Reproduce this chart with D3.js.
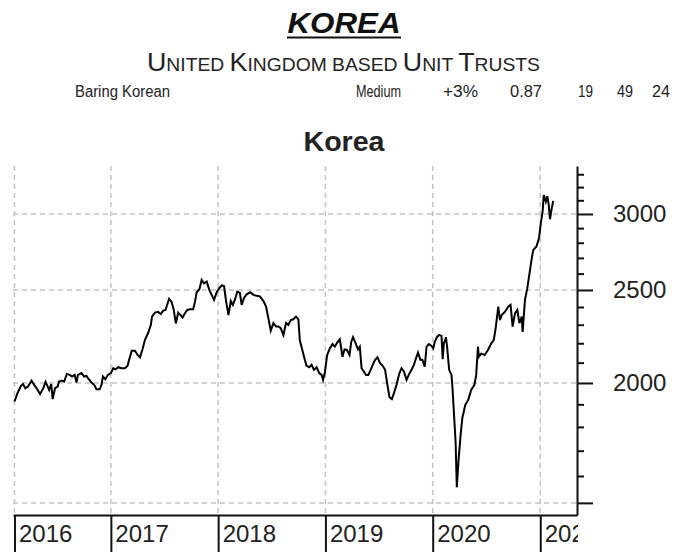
<!DOCTYPE html>
<html>
<head>
<meta charset="utf-8">
<script src="https://cdn.jsdelivr.net/npm/d3@7"></script>
<style>
  body { margin: 0; background: #fff; }
  svg { display: block; }
</style>
</head>
<body>
<svg id="chart"></svg>
<script>
// fund row under the heading
const rowTexts = ["Baring Korean", "Medium", "+3%", "0.87", "19", "49", "24"];

// weekly-ish closing levels
const dates = [
  "2016-02-08","2016-02-18","2016-03-01","2016-03-08","2016-03-16","2016-03-25","2016-04-06","2016-04-15","2016-04-23","2016-05-05",
  "2016-05-16","2016-05-24","2016-05-31","2016-06-05","2016-06-12","2016-06-17","2016-06-25","2016-07-04","2016-07-08","2016-07-17",
  "2016-07-26","2016-08-04","2016-08-14","2016-08-22","2016-08-31","2016-09-06","2016-09-11","2016-09-23","2016-10-02","2016-10-10",
  "2016-10-18","2016-10-27","2016-11-05","2016-11-13","2016-11-24","2016-11-30","2016-12-05","2016-12-13","2016-12-22","2017-01-01",
  "2017-01-09","2017-01-17","2017-01-26","2017-02-06","2017-02-18","2017-02-27","2017-03-04","2017-03-13","2017-03-24","2017-04-02",
  "2017-04-10","2017-04-18","2017-04-27","2017-05-08","2017-05-17","2017-05-21","2017-05-31","2017-06-11","2017-06-20","2017-06-28",
  "2017-07-06","2017-07-18","2017-07-27","2017-08-03","2017-08-10","2017-08-18","2017-08-26","2017-09-02","2017-09-10","2017-09-18",
  "2017-09-27","2017-10-08","2017-10-14","2017-10-20","2017-10-29","2017-11-06","2017-11-14","2017-11-23","2017-12-02","2017-12-10",
  "2017-12-18","2017-12-27","2018-01-05","2018-01-13","2018-01-21","2018-01-28","2018-02-05","2018-02-13","2018-02-20","2018-02-28",
  "2018-03-07","2018-03-16","2018-03-22","2018-03-30","2018-04-08","2018-04-20","2018-05-01","2018-05-12","2018-05-23","2018-06-04",
  "2018-06-13","2018-06-21","2018-06-29","2018-07-08","2018-07-17","2018-07-25","2018-08-02","2018-08-11","2018-08-20","2018-08-28",
  "2018-09-05","2018-09-14","2018-09-23","2018-10-01","2018-10-06","2018-10-15","2018-10-23","2018-10-29","2018-11-07","2018-11-15",
  "2018-11-23","2018-12-02","2018-12-11","2018-12-19","2018-12-24","2018-12-30","2019-01-07","2019-01-16","2019-01-25","2019-02-02",
  "2019-02-10","2019-02-19","2019-02-28","2019-03-07","2019-03-15","2019-03-24","2019-03-30","2019-04-05","2019-04-14","2019-04-22",
  "2019-04-28","2019-05-04","2019-05-12","2019-05-19","2019-05-27","2019-06-04","2019-06-11","2019-06-19","2019-06-27","2019-07-06",
  "2019-07-15","2019-07-23","2019-07-31","2019-08-07","2019-08-15","2019-08-22","2019-08-31","2019-09-09","2019-09-17","2019-09-25",
  "2019-10-04","2019-10-13","2019-10-21","2019-10-29","2019-11-07","2019-11-12","2019-11-20","2019-11-27","2019-12-05","2019-12-11",
  "2019-12-19","2019-12-28","2020-01-03","2020-01-08","2020-01-16","2020-01-23","2020-01-31","2020-02-04","2020-02-08","2020-02-15",
  "2020-02-19","2020-02-26","2020-03-05","2020-03-08","2020-03-12","2020-03-19","2020-03-23","2020-03-29","2020-04-05","2020-04-11",
  "2020-04-21","2020-05-01","2020-05-11","2020-05-22","2020-05-28","2020-06-03","2020-06-06","2020-06-14","2020-06-26","2020-07-07",
  "2020-07-18","2020-07-27","2020-08-03","2020-08-11","2020-08-17","2020-08-23","2020-09-03","2020-09-14","2020-09-22","2020-09-29",
  "2020-10-07","2020-10-15","2020-10-22","2020-10-30","2020-11-02","2020-11-10","2020-11-18","2020-11-24","2020-12-02","2020-12-08",
  "2020-12-19","2020-12-28","2021-01-03","2021-01-09","2021-01-13","2021-01-20","2021-01-25","2021-01-30","2021-02-03","2021-02-09",
  "2021-02-14"
];
const values = [
  1913,1951,1986,1995,1975,1983,2011,1991,1975,1948,
  1975,2006,1983,1967,1995,1924,1975,1983,2006,2011,
  2006,2044,2039,2031,2039,2002,2039,2048,2031,2034,
  2018,2002,1991,1970,1970,1991,2031,2018,2039,2048,
  2072,2067,2077,2072,2072,2084,2114,2161,2161,2139,
  2127,2165,2218,2256,2299,2345,2368,2372,2360,2379,
  2383,2447,2428,2383,2307,2368,2354,2340,2364,2383,
  2387,2387,2428,2486,2503,2561,2540,2551,2500,2471,
  2441,2486,2511,2527,2523,2434,2354,2434,2412,2447,
  2490,2482,2412,2453,2474,2486,2471,2465,2462,2434,
  2402,2335,2267,2309,2290,2290,2281,2244,2309,2299,
  2326,2330,2345,2330,2214,2161,2114,2084,2077,2089,
  2064,2077,2048,2039,2015,2051,2139,2173,2196,2182,
  2203,2221,2130,2168,2165,2139,2208,2232,2199,2168,
  2182,2072,2056,2039,2039,2064,2089,2114,2127,2097,
  2084,2064,1991,1933,1924,1951,1991,2044,2072,2056,
  2015,2044,2064,2089,2130,2151,2114,2114,2080,2182,
  2196,2186,2173,2208,2234,2244,2239,2117,2199,2232,
  2182,2064,2039,1983,1890,1734,1557,1663,1766,1840,
  1898,1921,1967,1991,2039,2182,2130,2146,2139,2165,
  2199,2218,2290,2402,2326,2354,2373,2402,2412,2290,
  2364,2383,2309,2345,2260,2441,2511,2584,2684,2751,
  2775,2834,2936,3017,3140,3090,3131,3065,2962,3041,
  3096
];

// axis marks
const yearDates = ["2016-02-08", "2017-01-01", "2018-01-01", "2019-01-01", "2020-01-01", "2021-01-01"];
const yearLabels = ["2016", "2017", "2018", "2019", "2020", "2021"];
const majorTicks = [1500, 2000, 2500, 3000];
const labelledTicks = [2000, 2500, 3000];
const minorTicks = [1600, 1700, 1800, 1900, 2100, 2200, 2300, 2400, 2600, 2700, 2800, 2900, 3100, 3200, 3300];

const width = 692, height = 552;
const plot = { left: 13, right: 577, top: 166, bottom: 515 };
const parse = d3.timeParse("%Y-%m-%d");

const svg = d3.select("#chart").attr("width", width).attr("height", height);
svg.append("rect").attr("width", width).attr("height", height).attr("fill", "#fff");

const narrow = "'Liberation Sans Narrow', 'Arial Narrow', 'Liberation Sans', Arial, sans-serif";
const sans = "'Liberation Sans', Arial, Helvetica, sans-serif";

// heading
svg.append("text")
  .attr("x", 344).attr("y", 33)
  .attr("text-anchor", "middle")
  .attr("font-family", sans).attr("font-weight", "bold").attr("font-style", "italic")
  .attr("font-size", 29).attr("fill", "#111")
  .attr("textLength", 113).attr("lengthAdjust", "spacingAndGlyphs")
  .text("KOREA");
svg.append("line")
  .attr("x1", 287).attr("x2", 401).attr("y1", 37.5).attr("y2", 37.5)
  .attr("stroke", "#111").attr("stroke-width", 2.2);

// small caps subtitle
const sub = svg.append("text")
  .attr("x", 147).attr("y", 71)
  .attr("font-family", narrow).attr("fill", "#222")
  .attr("textLength", 393).attr("lengthAdjust", "spacingAndGlyphs");
[["U", 25], ["NITED ", 18], ["K", 25], ["INGDOM BASED ", 18], ["U", 25], ["NIT ", 18], ["T", 25], ["RUSTS", 18]]
  .forEach(([t, s]) => sub.append("tspan").attr("font-size", s).text(t));

// row cells, squeezed to the narrow widths of the original
const rowX = [75, 356, 443, 510, 578, 617, 652];
const rowW = [95, 45, 35, 32, 15, 16, 18];
svg.append("g").selectAll("text")
  .data(rowTexts)
  .enter().append("text")
  .attr("x", (d, i) => rowX[i]).attr("y", 97)
  .attr("font-family", narrow).attr("font-size", 16).attr("fill", "#222")
  .attr("textLength", (d, i) => rowW[i]).attr("lengthAdjust", "spacingAndGlyphs")
  .text(d => d);

svg.append("text")
  .attr("x", 344).attr("y", 151)
  .attr("text-anchor", "middle")
  .attr("font-family", sans).attr("font-weight", "bold")
  .attr("font-size", 27).attr("fill", "#222")
  .attr("textLength", 81).attr("lengthAdjust", "spacingAndGlyphs")
  .text("Korea");

// scales
const x = d3.scaleTime()
  .domain([parse("2016-02-03"), parse("2021-05-06")])
  .range([plot.left, plot.right]);
const y = d3.scaleLog()
  .domain([1457, 3366])
  .range([plot.bottom, plot.top]);

// grid
const grid = svg.append("g")
  .attr("stroke", "#c4c4c4").attr("stroke-width", 1.5).attr("stroke-dasharray", "5,4");
grid.selectAll("line.h")
  .data(majorTicks)
  .enter().append("line").attr("class", "h")
  .attr("x1", plot.left).attr("x2", plot.right)
  .attr("y1", d => y(d)).attr("y2", d => y(d));
grid.selectAll("line.v")
  .data(yearDates)
  .enter().append("line").attr("class", "v")
  .attr("x1", d => x(parse(d))).attr("x2", d => x(parse(d)))
  .attr("y1", plot.top).attr("y2", plot.bottom);

// price line
const line = d3.line()
  .x((d, i) => x(parse(dates[i])))
  .y(d => y(d));
svg.append("path")
  .datum(values)
  .attr("d", line)
  .attr("fill", "none")
  .attr("stroke", "#000")
  .attr("stroke-width", 2)
  .attr("stroke-linejoin", "miter");

// right axis: minor then major
svg.append("g")
  .attr("transform", `translate(${plot.right},0)`)
  .call(d3.axisRight(y).tickValues(minorTicks).tickSize(7).tickSizeOuter(0).tickFormat(""))
  .call(g => g.select(".domain").remove())
  .call(g => g.selectAll("line").attr("stroke", "#111").attr("stroke-width", 2));

svg.append("g")
  .attr("transform", `translate(${plot.right},0)`)
  .call(d3.axisRight(y).tickValues(majorTicks).tickSize(16).tickSizeOuter(0).tickPadding(20)
    .tickFormat(d => labelledTicks.includes(d) ? d : ""))
  .call(g => g.select(".domain").attr("stroke", "#111").attr("stroke-width", 2))
  .call(g => g.selectAll("line").attr("stroke", "#111").attr("stroke-width", 2))
  .call(g => g.selectAll("text").attr("font-family", sans).attr("font-size", 24).attr("fill", "#222"));

// bottom axis with year labels to the right of each mark, cut off at the right axis
svg.append("clipPath").attr("id", "xclip")
  .append("rect").attr("x", 0).attr("y", -3).attr("width", plot.right + 1).attr("height", 45);

svg.append("g")
  .attr("transform", `translate(0,${plot.bottom})`)
  .attr("clip-path", "url(#xclip)")
  .call(d3.axisBottom(x).tickValues(yearDates.map(parse)).tickSize(38).tickSizeOuter(0)
    .tickFormat((d, i) => yearLabels[i]))
  .call(g => g.select(".domain").attr("stroke", "#111").attr("stroke-width", 2))
  .call(g => g.selectAll("line").attr("stroke", "#111").attr("stroke-width", 2))
  .call(g => g.selectAll("text")
    .attr("text-anchor", "start").attr("x", 4).attr("y", 27).attr("dy", 0)
    .attr("font-family", sans).attr("font-size", 24).attr("fill", "#222"));
</script>
</body>
</html>
